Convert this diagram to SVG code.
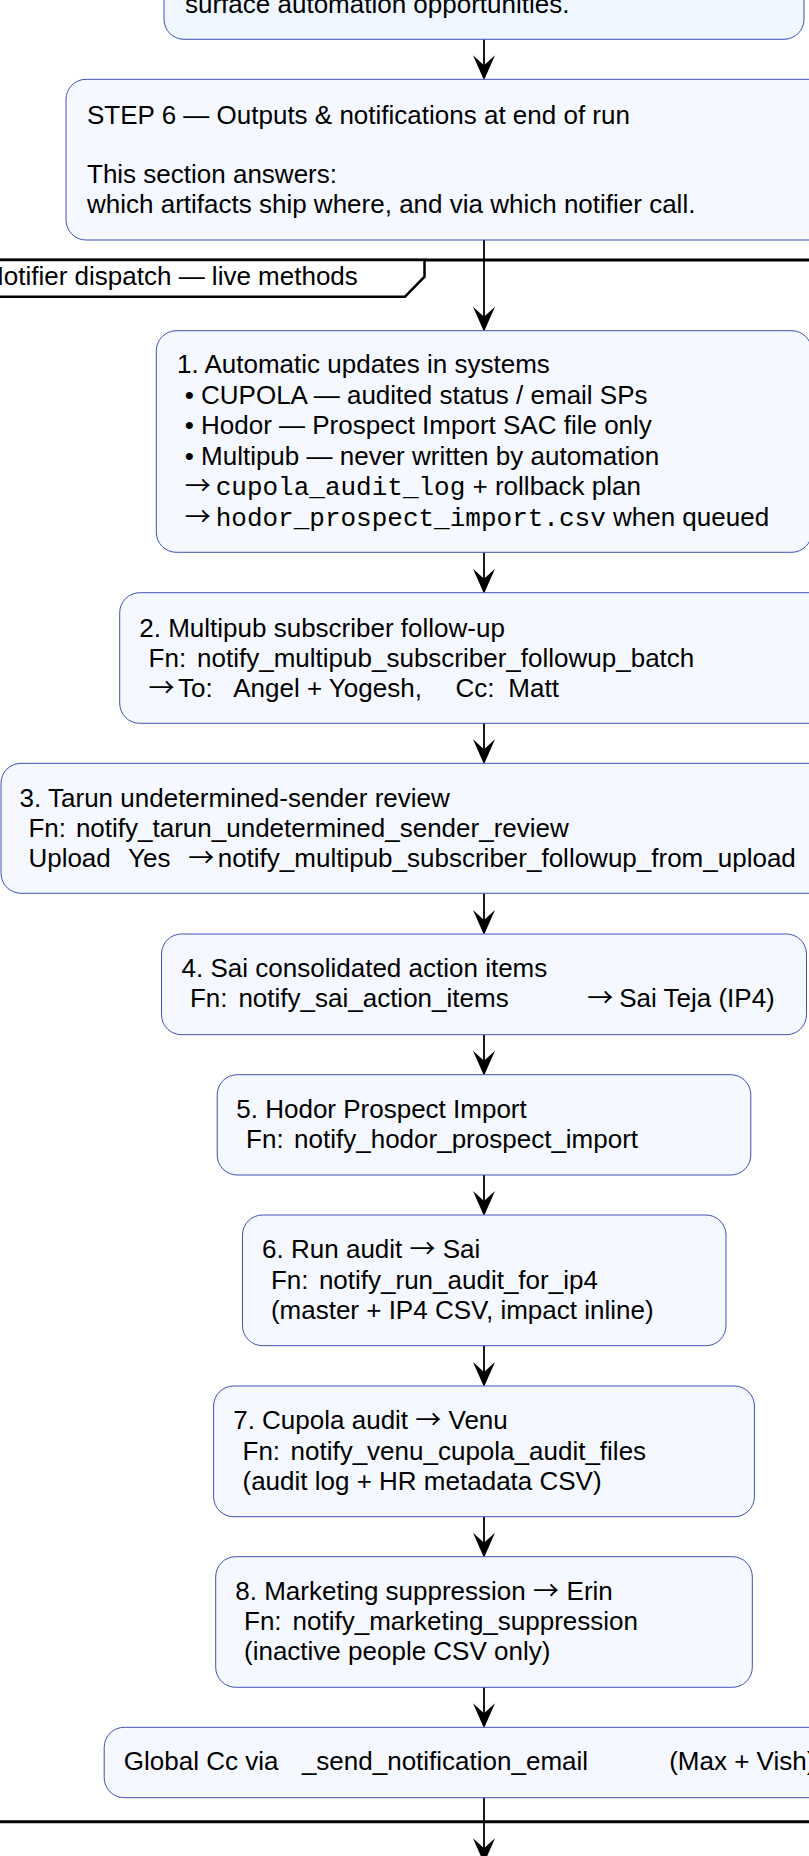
<svg xmlns="http://www.w3.org/2000/svg" width="809" height="1856" viewBox="0 0 809 1856">
<style>
  text { font-family: "Liberation Sans", Arial, sans-serif; font-size: 26px; fill: #000; }
  .mono { font-family: "Liberation Mono", "Courier New", monospace; }
  .ar { font-family: "Noto Sans CJK JP", "Liberation Sans", sans-serif; }
  .box { fill: #F5F8FF; stroke: #3F51B5; stroke-width: 1; }
  .prev { fill: #EEF6FF; stroke: #3F51B5; stroke-width: 1; }
  .edge { stroke: #000; stroke-width: 1.8; fill: none; }
  .head { fill: #000; stroke: none; }
  .frame { stroke: #000; stroke-width: 3; fill: none; }
  .tab { stroke: #000; stroke-width: 2.5; fill: #fff; }
</style>
<rect width="809" height="1856" fill="#fff"/>

<g id="partition">
  <line class="frame" x1="-10" y1="260" x2="820" y2="260"/>
  <line class="frame" x1="-10" y1="1821.7" x2="820" y2="1821.7"/>
  <path class="tab" d="M -10 260 L 424.5 260 L 424.5 276.7 L 405 296.7 L -10 296.7"/>
  <text x="-15" y="285">Notifier dispatch — live methods</text>
</g>

<g id="connectors">
  <line class="edge" x1="484" y1="39.3" x2="484" y2="72"/>
  <polygon class="head" points="473,55.3 484,80.3 495,55.3 484,65.3"/>
  <line class="edge" x1="484" y1="240" x2="484" y2="322"/>
  <polygon class="head" points="473,306.7 484,331.7 495,306.7 484,316.7"/>
  <line class="edge" x1="484" y1="552.3" x2="484" y2="584"/>
  <polygon class="head" points="473,568.7 484,593.7 495,568.7 484,578.7"/>
  <line class="edge" x1="484" y1="723.3" x2="484" y2="755"/>
  <polygon class="head" points="473,739.3 484,764.3 495,739.3 484,749.3"/>
  <line class="edge" x1="484" y1="893.3" x2="484" y2="926"/>
  <polygon class="head" points="473,910 484,935 495,910 484,920"/>
  <line class="edge" x1="484" y1="1034.7" x2="484" y2="1066"/>
  <polygon class="head" points="473,1050.7 484,1075.7 495,1050.7 484,1060.7"/>
  <line class="edge" x1="484" y1="1175" x2="484" y2="1207"/>
  <polygon class="head" points="473,1191 484,1216 495,1191 484,1201"/>
  <line class="edge" x1="484" y1="1345.7" x2="484" y2="1378"/>
  <polygon class="head" points="473,1362 484,1387 495,1362 484,1372"/>
  <line class="edge" x1="484" y1="1516.7" x2="484" y2="1548"/>
  <polygon class="head" points="473,1532.7 484,1557.7 495,1532.7 484,1542.7"/>
  <line class="edge" x1="484" y1="1687.3" x2="484" y2="1719"/>
  <polygon class="head" points="473,1703.3 484,1728.3 495,1703.3 484,1713.3"/>
  <line class="edge" x1="484" y1="1797.7" x2="484" y2="1856"/>
  <polygon class="head" points="473,1838.3 484,1863.3 495,1838.3 484,1848.3"/>
</g>

<g id="prev-step">
  <rect class="prev" x="164" y="-100" width="640" height="139.3" rx="20" ry="20"/>
  <text x="185" y="13">surface automation opportunities.</text>
</g>

<g id="step6">
  <rect class="box" x="66" y="79.3" width="836" height="160.7" rx="20" ry="20"/>
  <text x="87" y="124">STEP 6 — Outputs &amp; notifications at end of run</text>
  <text x="87" y="183">This section answers:</text>
  <text x="87" y="213">which artifacts ship where, and via which notifier call.</text>
</g>

<g id="n1">
  <rect class="box" x="156.3" y="330.7" width="655.4" height="221.6" rx="20" ry="20"/>
  <text x="177" y="373.3">1. Automatic updates in systems</text>
  <text x="184.7" y="403.5">• CUPOLA — audited status / email SPs</text>
  <text x="184.7" y="434">• Hodor — Prospect Import SAC file only</text>
  <text x="184.7" y="464.5">• Multipub — never written by automation</text>
  <text x="184.7" y="495"><tspan class="ar">→</tspan><tspan class="mono" x="215.7">cupola_audit_log</tspan> + rollback plan</text>
  <text x="184.7" y="525.5"><tspan class="ar">→</tspan><tspan class="mono" x="215.7">hodor_prospect_import.csv</tspan> when queued</text>
</g>

<g id="n2">
  <rect class="box" x="119.7" y="592.7" width="728.6" height="130.6" rx="20" ry="20"/>
  <text x="139.3" y="636.7">2. Multipub subscriber follow-up</text>
  <text x="148.6" y="666.7">Fn:<tspan x="197.1">notify_multipub_subscriber_followup_batch</tspan></text>
  <text x="148.6" y="696.7"><tspan class="ar">→</tspan><tspan x="178">To:</tspan><tspan x="233.2">Angel + Yogesh,</tspan><tspan x="455.6">Cc:</tspan><tspan x="508.3">Matt</tspan></text>
</g>

<g id="n3">
  <rect class="box" x="1" y="763.3" width="966" height="130" rx="20" ry="20"/>
  <text x="19.6" y="806.7">3. Tarun undetermined-sender review</text>
  <text x="28.4" y="836.7">Fn:<tspan x="75.9">notify_tarun_undetermined_sender_review</tspan></text>
  <text x="28.4" y="866.7">Upload<tspan x="128">Yes</tspan><tspan class="ar" x="188.3">→</tspan><tspan x="217.7">notify_multipub_subscriber_followup_from_upload</tspan></text>
</g>

<g id="n4">
  <rect class="box" x="161.5" y="934" width="645" height="100.7" rx="20" ry="20"/>
  <text x="181.6" y="977.3">4. Sai consolidated action items</text>
  <text x="189.9" y="1007.3">Fn:<tspan x="238.4">notify_sai_action_items</tspan><tspan class="ar" x="587.2">→</tspan><tspan x="619.2">Sai Teja (IP4)</tspan></text>
</g>

<g id="n5">
  <rect class="box" x="217.2" y="1074.7" width="533.6" height="100.3" rx="20" ry="20"/>
  <text x="236.3" y="1118.3">5. Hodor Prospect Import</text>
  <text x="246.1" y="1148.3">Fn:<tspan x="294.1">notify_hodor_prospect_import</tspan></text>
</g>

<g id="n6">
  <rect class="box" x="242.5" y="1215" width="483.5" height="130.7" rx="20" ry="20"/>
  <text x="262.1" y="1258.3">6. Run audit <tspan class="ar">→</tspan><tspan x="442.7">Sai</tspan></text>
  <text x="270.9" y="1289">Fn:<tspan x="318.9">notify_run_audit_for_ip4</tspan></text>
  <text x="270.9" y="1318.7">(master + IP4 CSV, impact inline)</text>
</g>

<g id="n7">
  <rect class="box" x="213.6" y="1386" width="540.8" height="130.7" rx="20" ry="20"/>
  <text x="233.2" y="1429.3">7. Cupola audit <tspan class="ar">→</tspan><tspan x="448.5">Venu</tspan></text>
  <text x="242.5" y="1460">Fn:<tspan x="290.5">notify_venu_cupola_audit_files</tspan></text>
  <text x="242.5" y="1490">(audit log + HR metadata CSV)</text>
</g>

<g id="n8">
  <rect class="box" x="215.7" y="1556.7" width="536.6" height="130.6" rx="20" ry="20"/>
  <text x="235.3" y="1600">8. Marketing suppression <tspan class="ar">→</tspan><tspan x="566.6">Erin</tspan></text>
  <text x="244" y="1630">Fn:<tspan x="292.6">notify_marketing_suppression</tspan></text>
  <text x="244" y="1660">(inactive people CSV only)</text>
</g>

<g id="n9">
  <rect class="box" x="104.2" y="1727.3" width="759.6" height="70.4" rx="20" ry="20"/>
  <text x="123.8" y="1770">Global Cc via<tspan x="301.9">_send_notification_email</tspan><tspan x="669.2">(Max + Vish)</tspan></text>
</g>
</svg>
